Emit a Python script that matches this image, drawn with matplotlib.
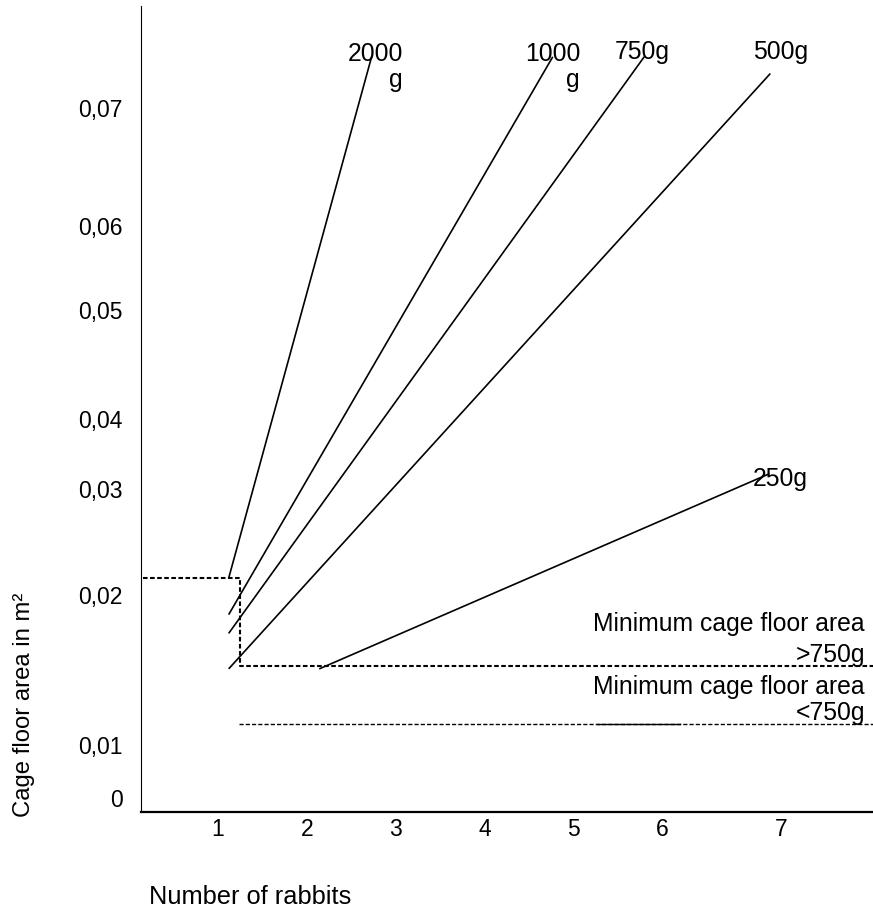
import matplotlib
matplotlib.use('Agg')
import matplotlib.pyplot as plt

plt.rcParams['font.family'] = ['Liberation Sans', 'DejaVu Sans']
FS = 16.5
FS_ANN = 17.8

# ---- data (number of rabbits, cage floor area in m²) ----
weight_labels = ['2000\ng', '1000\ng', '750g', '500g', '250g']
x_start = [1.12, 1.12, 1.12, 1.12, 2.14]
y_start = [0.0223, 0.0186, 0.0167, 0.0131, 0.0131]
x_end = [2.73, 4.77, 5.80, 7.22, 7.21]
y_end = [0.0752, 0.0752, 0.0752, 0.0735, 0.0329]

# minimum cage floor area steps
min_step_x = [0.155, 1.248, 1.248, 8.376]
min_step_y = [0.0223, 0.0223, 0.0134, 0.0134]
min_lt750_x = [1.237, 8.376]
min_lt750_y = [0.0075, 0.0075]
solid_seg_x = [5.27, 6.20]
min_labels = ['Minimum cage floor area\n>750g', 'Minimum cage floor area\n<750g']

x_tick_pos = [1, 2, 3, 4, 5, 6, 7.34]
x_tick_labels = ['1', '2', '3', '4', '5', '6', '7']
y_tick_pos = [0, 0.0054, 0.0206, 0.0313, 0.0384, 0.0495, 0.0580, 0.0700]
y_tick_labels = ['0', '0,01', '0,02', '0,03', '0,04', '0,05', '0,06', '0,07']

# label anchors (right edge, baseline of last line)
label_x = [3.083, 5.077, 6.09, 7.644, 7.644]
label_y = [0.0721, 0.0721, 0.0750, 0.0750, 0.0317]
min_label_x = [8.286, 8.286]
min_label_y = [0.0138, 0.0079]

W, H = 873, 922
fig = plt.figure(figsize=(W / 100, H / 100), dpi=100)
ax = fig.add_axes([141 / W, (H - 812) / H, (873 - 141) / W, (812 - 6) / H])
ax.set_xlim(0.1329, 8.376)
ax.set_ylim(-0.00142, 0.08035)

for xs, ys, xe, ye in zip(x_start, y_start, x_end, y_end):
    ax.plot([xs, xe], [ys, ye], color='black', lw=1.2, solid_capstyle='butt')

for lab, lx, ly in zip(weight_labels, label_x, label_y):
    ax.text(lx, ly, lab, ha='right', va='baseline', multialignment='right',
            fontsize=FS_ANN, linespacing=1.1)

ax.plot(min_step_x, min_step_y, color='black', lw=1.5, ls=(0, (2.2, 1.2)))
ax.plot(min_lt750_x, min_lt750_y, color='black', lw=1.0, ls=(0, (3, 1.5)))
ax.plot(solid_seg_x, min_lt750_y, color='black', lw=1.0)

ax.text(min_label_x[0], min_label_y[0], min_labels[0], ha='right', va='baseline',
        multialignment='right', fontsize=FS_ANN, linespacing=1.35)
ax.text(min_label_x[1], min_label_y[1], min_labels[1], ha='right', va='baseline',
        multialignment='right', fontsize=FS_ANN, linespacing=1.1)

for s in ['top', 'right']:
    ax.spines[s].set_visible(False)
ax.spines['left'].set_linewidth(0.8)
ax.spines['bottom'].set_linewidth(1.6)

ax.set_xticks(x_tick_pos)
ax.set_xticklabels(x_tick_labels, fontsize=FS)
ax.set_yticks(y_tick_pos)
ax.set_yticklabels(y_tick_labels, fontsize=FS)
ax.tick_params(axis='both', length=0)
ax.tick_params(axis='y', pad=13)
ax.tick_params(axis='x', pad=4)

fig.text(24 / W, 1 - 705 / H, 'Cage floor area in m²', rotation=90,
         ha='center', va='center', fontsize=17.2)
fig.text(250 / W, 1 - 897 / H, 'Number of rabbits', ha='center', va='center',
         fontsize=18.3)

fig.savefig('out.png', dpi=100)
